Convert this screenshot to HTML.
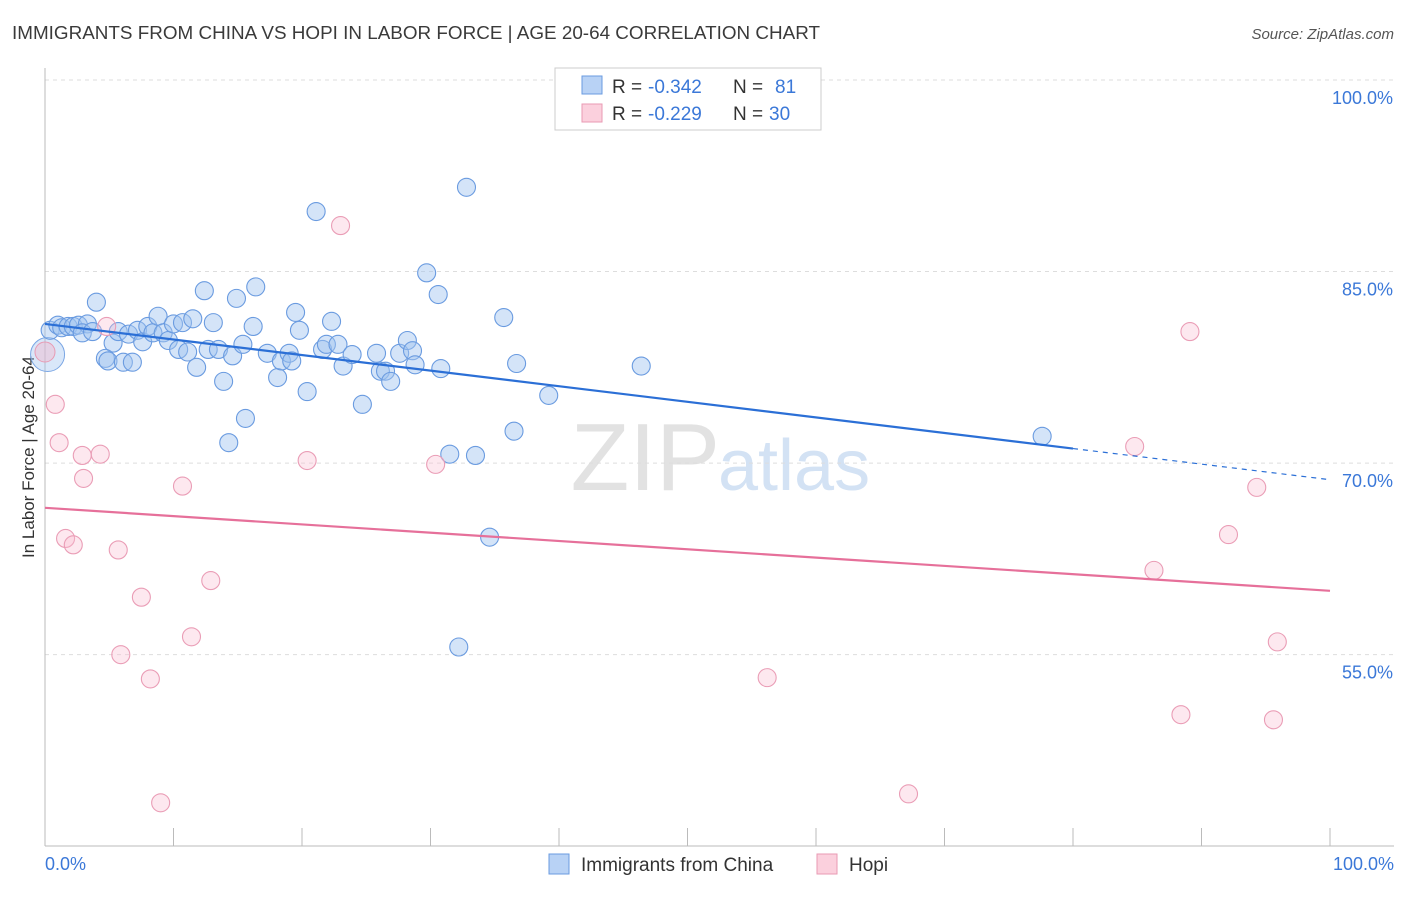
<!DOCTYPE html>
<html><head><meta charset="utf-8"><style>
body{margin:0;background:#fff;font-family:"Liberation Sans",sans-serif;}
svg text{font-family:"Liberation Sans",sans-serif;}
</style></head><body>
<svg id="chart" width="1406" height="892" xmlns="http://www.w3.org/2000/svg">
<text x="12" y="39" font-size="18" fill="#3a3a3a" textLength="808" lengthAdjust="spacingAndGlyphs">IMMIGRANTS FROM CHINA VS HOPI IN LABOR FORCE | AGE 20-64 CORRELATION CHART</text>
<text x="1394" y="39" font-size="15" fill="#555" text-anchor="end" font-style="italic">Source: ZipAtlas.com</text>
<text transform="translate(34,457) rotate(-90)" font-size="17" fill="#333" text-anchor="middle">In Labor Force | Age 20-64</text>
<text x="720" y="490" font-size="96" fill="#e2e2e2" text-anchor="end" font-family="Liberation Serif">ZIP</text>
<text x="718" y="490" font-size="72" fill="#d3e2f4">atlas</text>
<g id="grid"></g><g id="axes"></g><g id="marks"></g>
<g>
<rect x="555" y="68" width="266" height="62" fill="#fff" stroke="#ccc"/>
<rect x="582" y="76" width="20" height="18" fill="#b8d2f5" stroke="#6a9be0"/>
<rect x="582" y="104" width="20" height="18" fill="#fbd0dd" stroke="#e89ab3"/>
<text x="612" y="93" font-size="19" fill="#333">R =</text>
<text x="648" y="93" font-size="19" fill="#3b78d8">-0.342</text>
<text x="733" y="93" font-size="19" fill="#333">N =</text>
<text x="775" y="93" font-size="19" fill="#3b78d8">81</text>
<text x="612" y="120" font-size="19" fill="#333">R =</text>
<text x="648" y="120" font-size="19" fill="#3b78d8">-0.229</text>
<text x="733" y="120" font-size="19" fill="#333">N =</text>
<text x="769" y="120" font-size="19" fill="#3b78d8">30</text>
</g>
<g>
<rect x="549" y="854" width="20" height="20" fill="#b8d2f5" stroke="#6a9be0"/>
<text x="581" y="871" font-size="19" fill="#333">Immigrants from China</text>
<rect x="817" y="854" width="20" height="20" fill="#fbd0dd" stroke="#e89ab3"/>
<text x="849" y="871" font-size="19" fill="#333">Hopi</text>
</g>
</svg>
<script>
const yTicks=[100,85,70,55];
const yTickLabels=["100.0%","85.0%","70.0%","55.0%"];
const xTickVals=[0,10,20,30,40,50,60,70,80,90,100];
const chinaX=[0.4,1.0,1.3,1.8,2.2,2.6,3.3,2.9,3.7,4.0,5.3,4.7,4.9,5.7,6.1,6.5,6.8,7.2,7.6,8.0,8.4,8.8,9.2,9.6,10.0,10.4,10.7,11.1,11.5,11.8,12.4,12.7,13.1,13.5,13.9,14.3,14.6,14.9,15.4,15.6,16.2,16.4,17.3,18.1,18.4,19.0,19.2,19.5,19.8,20.4,21.1,21.6,21.9,22.3,22.8,23.2,23.9,24.7,25.8,26.1,26.5,26.9,27.6,28.2,28.6,28.8,29.7,30.6,30.8,31.5,32.2,32.8,33.5,34.6,35.7,36.5,36.7,39.2,46.4,77.6];
const chinaY=[80.4,80.8,80.6,80.7,80.7,80.8,80.9,80.2,80.3,82.6,79.4,78.2,78.0,80.3,77.9,80.1,77.9,80.4,79.5,80.7,80.2,81.5,80.2,79.6,80.9,78.9,81.0,78.7,81.3,77.5,83.5,78.9,81.0,78.9,76.4,71.6,78.4,82.9,79.3,73.5,80.7,83.8,78.6,76.7,78.0,78.6,78.0,81.8,80.4,75.6,89.7,78.9,79.3,81.1,79.3,77.6,78.5,74.6,78.6,77.2,77.2,76.4,78.6,79.6,78.8,77.7,84.9,83.2,77.4,70.7,55.6,91.6,70.6,64.2,81.4,72.5,77.8,75.3,77.6,72.1];
const hopiX=[0.8,1.1,2.9,3.0,4.3,1.6,2.2,4.8,5.7,5.9,7.5,8.2,9.0,10.7,11.4,12.9,20.4,23.0,30.4,56.2,67.2,84.8,86.3,88.4,89.1,92.1,94.3,95.6,95.9];
const hopiY=[74.6,71.6,70.6,68.8,70.7,64.1,63.6,80.7,63.2,55.0,59.5,53.1,43.4,68.2,56.4,60.8,70.2,88.6,69.9,53.2,44.1,71.3,61.6,50.3,80.3,64.4,68.1,49.9,56.0];
const chinaTrend=[80.9,68.7];
const hopiTrend=[66.5,60.0];
const X=v=>45+v*12.85, Y=v=>80+(100-v)*12.77;
const NS="http://www.w3.org/2000/svg";
function mk(t,a,p){const e=document.createElementNS(NS,t);for(const k in a)e.setAttribute(k,a[k]);p.appendChild(e);return e;}
const grid=document.getElementById('grid'),axes=document.getElementById('axes'),marks=document.getElementById('marks');
yTicks.forEach((v,i)=>{
 const l=mk('line',{x1:45,x2:1394,y1:Y(v),y2:Y(v),stroke:'#ddd','stroke-dasharray':'4,4'},grid);
 
 
 const t=mk('text',{x:1393,y:Y(v)+24,'font-size':18,fill:'#3b78d8','text-anchor':'end'},axes);
 t.textContent=yTickLabels[i];
 
 
});
mk('line',{x1:45,x2:45,y1:68,y2:846,stroke:'#bbb'},axes);
mk('line',{x1:45,x2:1394,y1:846,y2:846,stroke:'#bbb'},axes);
xTickVals.forEach(v=>{
 const l=mk('line',{x1:X(v),x2:X(v),y1:828,y2:846,stroke:'#bbb'},axes);
 
 
});
let t=mk('text',{x:45,y:870,'font-size':18,fill:'#3b78d8'},axes);t.textContent='0.0%';


t=mk('text',{x:1394,y:870,'font-size':18,fill:'#3b78d8','text-anchor':'end'},axes);t.textContent='100.0%';


let c=mk('circle',{cx:X(0.2),cy:Y(78.5),r:17,fill:'rgba(160,195,240,0.4)',stroke:'#7aa6e4'},marks);


c=mk('circle',{cx:X(0),cy:Y(78.7),r:10,fill:'rgba(245,180,200,0.4)',stroke:'#e89ab3'},marks);


chinaX.forEach((x,i)=>{
 const e=mk('circle',{cx:X(x),cy:Y(chinaY[i]),r:9,fill:'rgba(160,195,240,0.45)',stroke:'#6a9be0','stroke-width':1.1},marks);
 
 
});
hopiX.forEach((x,i)=>{
 const e=mk('circle',{cx:X(x),cy:Y(hopiY[i]),r:9,fill:'rgba(248,190,208,0.35)',stroke:'#ea9db6','stroke-width':1.1},marks);
 
 
});
const f=(a,x)=>a[0]+(a[1]-a[0])*x/100;
let l=mk('line',{x1:X(0),y1:Y(f(chinaTrend,0)),x2:X(80),y2:Y(f(chinaTrend,80)),stroke:'#2b6fd6','stroke-width':2.2},marks);


l=mk('line',{x1:X(80),y1:Y(f(chinaTrend,80)),x2:X(100),y2:Y(f(chinaTrend,100)),stroke:'#2b6fd6','stroke-width':1.2,'stroke-dasharray':'5,5'},marks);


l=mk('line',{x1:X(0),y1:Y(f(hopiTrend,0)),x2:X(100),y2:Y(f(hopiTrend,100)),stroke:'#e6709a','stroke-width':2.2},marks);


</script>
</body></html>
